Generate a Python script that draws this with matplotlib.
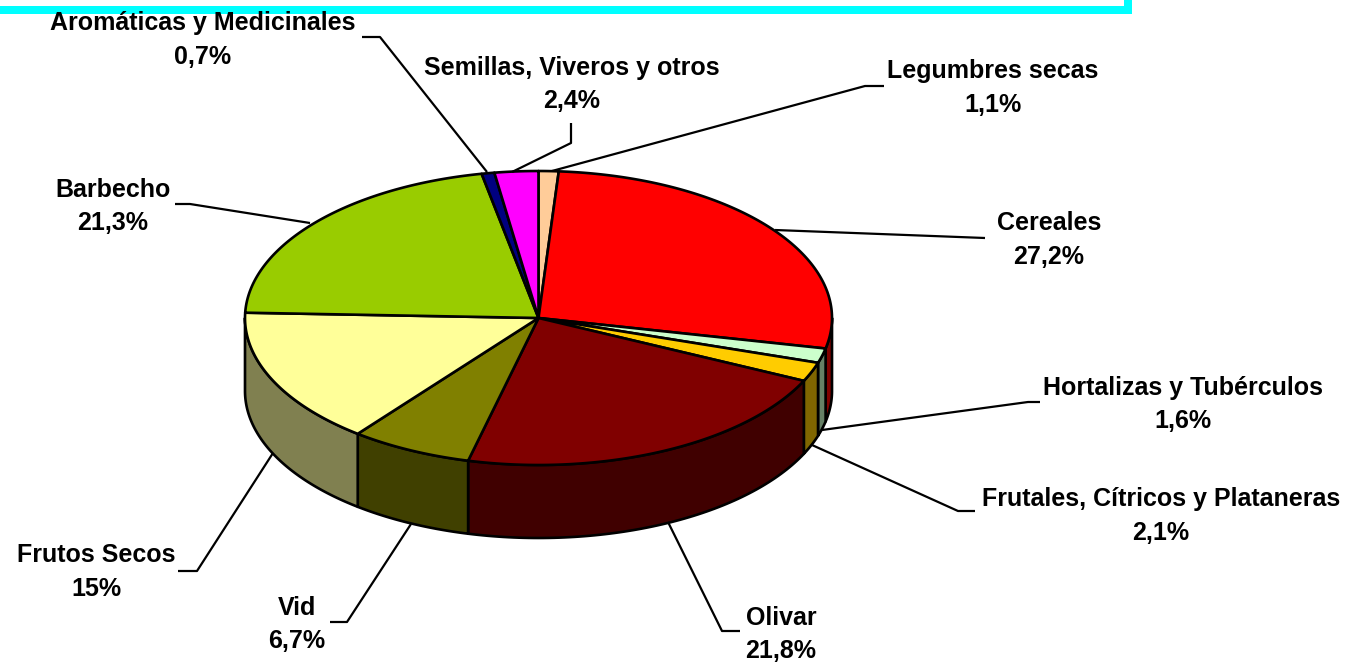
import numpy as np
import matplotlib
matplotlib.use('Agg')
import matplotlib.pyplot as plt
from matplotlib.patches import Polygon, Rectangle

# categorias en el orden de la tarta, empezando arriba y en sentido horario
categorias = ['Legumbres secas', 'Cereales', 'Hortalizas y Tubérculos',
              'Frutales, Cítricos y Plataneras', 'Olivar', 'Vid', 'Frutos Secos',
              'Barbecho', 'Aromáticas y Medicinales', 'Semillas, Viveros y otros']
valores = [1.1, 27.2, 1.6, 2.1, 21.8, 6.7, 15, 21.3, 0.7, 2.4]
etiquetas = ['1,1%', '27,2%', '1,6%', '2,1%', '21,8%', '6,7%', '15%', '21,3%', '0,7%', '2,4%']
colores = ['#FFCC99', '#FF0000', '#CCFFCC', '#FFCC00', '#800000', '#808000',
           '#FFFF99', '#99CC00', '#000080', '#FF00FF']
lados = ['#806650', '#800000', '#668066', '#806600', '#400000', '#404000',
         '#808050', '#4D6600', '#000040', '#800080']

# posicion del texto y lineas guia (pixeles)
pos_texto = [(993, 71), (1049, 223), (1183, 388), (1161, 499), (781, 618),
             (297, 608), (96, 555), (113, 190), (203, 23), (572, 68)]
guias = [[(552, 171), (865, 86), (884, 86)],
         [(775, 230), (985, 238)],
         [(822, 430), (1028, 402), (1040, 402)],
         [(812, 445), (958, 511), (975, 511)],
         [(668, 522), (722, 631), (740, 631)],
         [(411, 524), (347, 622), (330, 622)],
         [(273, 453), (197, 571), (178, 571)],
         [(310, 223), (190, 204), (175, 204)],
         [(487, 172), (380, 37), (362, 37)],
         [(512, 172), (571, 143), (571, 123)]]

cx, cy = 538.5, 318
rx, ry = 293.5, 147
alto = 73


def punto(ang):
    # angulo medido desde arriba, horario
    return cx + rx * np.sin(ang), cy - ry * np.cos(ang)


plt.rcParams['font.family'] = ['Liberation Sans', 'DejaVu Sans']
fig = plt.figure(figsize=(13.49, 6.63), dpi=100)
ax = fig.add_axes([0, 0, 1, 1])
ax.set_xlim(0, 1349)
ax.set_ylim(663, 0)
ax.axis('off')

# barra cian de arriba
ax.add_patch(Rectangle((0, 6), 1132, 8, color='#00FFFF', lw=0, zorder=1))
ax.add_patch(Rectangle((1124, 0), 8, 14, color='#00FFFF', lw=0, zorder=1))

limites = np.cumsum([0] + valores) / sum(valores) * 2 * np.pi

# lados visibles (mitad de abajo)
for i in range(len(valores)):
    a0 = max(limites[i], np.pi / 2)
    a1 = min(limites[i + 1], 3 * np.pi / 2)
    if a1 <= a0:
        continue
    t = np.linspace(a0, a1, 80)
    xs, ys = punto(t)
    borde = list(zip(xs, ys)) + list(zip(xs[::-1], ys[::-1] + alto))
    ax.add_patch(Polygon(borde, closed=True, fc=lados[i], ec='black', lw=1.9,
                         joinstyle='round', zorder=2))

# cara de arriba
for i in range(len(valores)):
    t = np.linspace(limites[i], limites[i + 1], 120)
    xs, ys = punto(t)
    borde = [(cx, cy)] + list(zip(xs, ys))
    ax.add_patch(Polygon(borde, closed=True, fc=colores[i], ec='black', lw=1.9,
                         joinstyle='round', zorder=3))

# lineas guia y textos
for i in range(len(categorias)):
    gx, gy = zip(*guias[i])
    ax.plot(gx, gy, color='black', lw=1.6, zorder=4, solid_capstyle='butt')
    tx, ty = pos_texto[i]
    ax.text(tx, ty, categorias[i], ha='center', va='center', fontsize=18,
            fontweight='bold', color='black', zorder=5)
    ax.text(tx, ty + 33.5, etiquetas[i], ha='center', va='center', fontsize=18,
            fontweight='bold', color='black', zorder=5)

fig.savefig('out.png', dpi=100, facecolor='white')
